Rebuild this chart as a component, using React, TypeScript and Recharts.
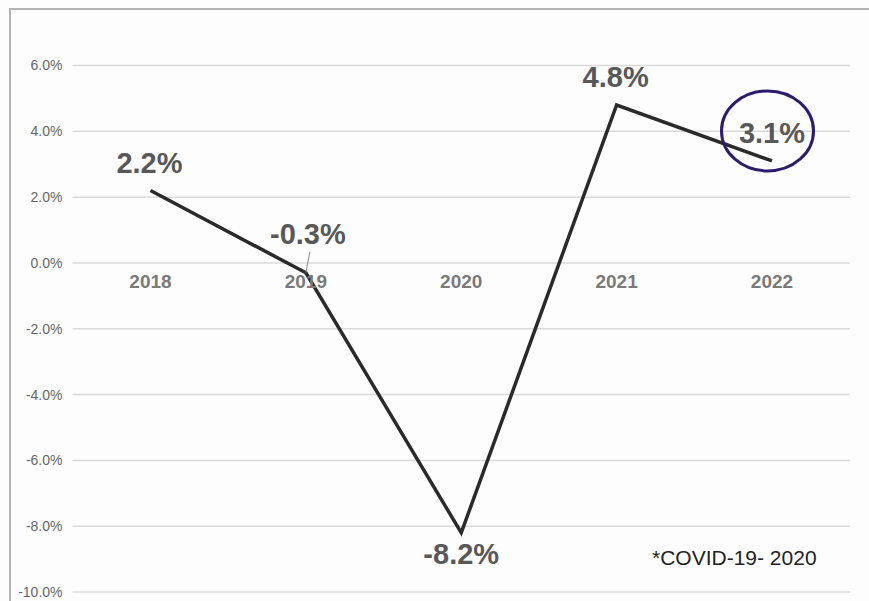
import React from "react";
import {
  LineChart,
  Line,
  XAxis,
  YAxis,
  CartesianGrid,
  LabelList,
  ReferenceDot,
} from "recharts";

const years = ["2018", "2019", "2020", "2021", "2022"];
const growth = [2.2, -0.3, -8.2, 4.8, 3.1];
const yTicks = [-10, -8, -6, -4, -2, 0, 2, 4, 6];
const note = "*COVID-19- 2020";

const data = years.map((year, i) => ({ year, growth: growth[i] }));

const FONT = '"Liberation Sans", Arial, Helvetica, sans-serif';

// per-point label offsets (baseline relative to the point)
const placement = [
  { dx: -1, dy: -18 },
  { dx: 2, dy: -29, leader: true },
  { dx: 0, dy: 31 },
  { dx: -1, dy: -18 },
  { dx: 0, dy: -18, circle: true },
];

const ValueLabel = (props: any) => {
  const { x, y, value, index } = props;
  const p = placement[index] || { dx: 0, dy: -18 };
  return (
    <g>
      {p.leader && (
        <line x1={x + 4} y1={y - 21} x2={x} y2={y} stroke="#8a8a8a" strokeWidth={1} />
      )}
      <text
        x={x + p.dx}
        y={y + p.dy}
        textAnchor="middle"
        fontFamily={FONT}
        fontWeight="bold"
        fontSize={29}
        fill="#585858"
      >
        {`${Number(value).toFixed(1)}%`}
      </text>
      {p.circle && (
        <ellipse
          cx={x - 4.5}
          cy={y - 30}
          rx={46}
          ry={40}
          fill="none"
          stroke="#2d1b6b"
          strokeWidth={3}
        />
      )}
    </g>
  );
};

const YearLabel = (props: any) => {
  const { viewBox, value } = props;
  const cx = viewBox.cx ?? viewBox.x + (viewBox.width || 0) / 2;
  const cy = viewBox.cy ?? viewBox.y + (viewBox.height || 0) / 2;
  return (
    <text
      x={cx}
      y={cy + 25}
      textAnchor="middle"
      fontFamily={FONT}
      fontWeight="bold"
      fontSize={19}
      fill="#7a7a7a"
    >
      {value}
    </text>
  );
};

export default function App() {
  return (
    <div
      style={{
        position: "fixed",
        left: 0,
        top: 0,
        width: 869,
        height: 601,
        background: "#fdfdfd",
        overflow: "hidden",
      }}
    >
      <div
        style={{
          position: "absolute",
          left: 9,
          top: 8,
          right: 0,
          bottom: 0,
          borderLeft: "2px solid #b3b3b3",
          borderTop: "2px solid #b3b3b3",
        }}
      />
      <LineChart
        width={869}
        height={601}
        data={data}
        margin={{ top: 65.5, right: 19, bottom: 9, left: 10 }}
      >
        <CartesianGrid vertical={false} stroke="#dadada" strokeWidth={1.5} />
        <XAxis dataKey="year" hide padding={{ left: 78, right: 78 }} />
        <YAxis
          width={62.5}
          domain={[-10, 6]}
          ticks={yTicks}
          interval={0}
          axisLine={false}
          tickLine={false}
          tickSize={0}
          tickMargin={10}
          tick={{ fill: "#666", fontSize: 14, fontFamily: FONT }}
          tickFormatter={(v: number) => `${v.toFixed(1)}%`}
        />
        {years.map((yr) => (
          <ReferenceDot
            key={yr}
            x={yr}
            y={0}
            r={0}
            fill="none"
            stroke="none"
            ifOverflow="visible"
            label={<YearLabel value={yr} />}
          />
        ))}
        <Line
          type="linear"
          dataKey="growth"
          stroke="#2a2a2a"
          strokeWidth={3.5}
          dot={false}
          activeDot={false}
          isAnimationActive={false}
        >
          <LabelList dataKey="growth" content={<ValueLabel />} />
        </Line>
      </LineChart>
      <div
        style={{
          position: "absolute",
          left: 652,
          top: 545,
          fontFamily: FONT,
          fontSize: 21,
          color: "#222",
          whiteSpace: "nowrap",
          lineHeight: "26px",
        }}
      >
        {note}
      </div>
    </div>
  );
}
